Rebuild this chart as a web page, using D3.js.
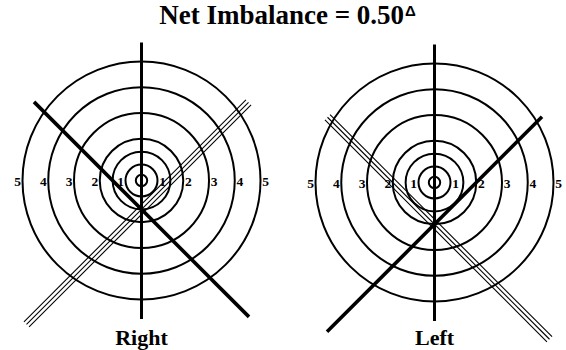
<!DOCTYPE html>
<html>
<head>
<meta charset="utf-8">
<script src="https://cdn.jsdelivr.net/npm/d3@7"></script>
<style>
  html, body { margin: 0; padding: 0; background: #fff; }
  svg { display: block; }
</style>
</head>
<body>
<svg id="chart" width="566" height="350"></svg>
<script>
// ---- data ----
const titleText = "Net Imbalance = 0.50";
const titleUnit = "\u0394";
const panelNames = ["Right", "Left"];
const crossValues = [1.5, 2];        // ring value (below centre) where the diagonals cross
const thickDirections = [1, -1];     // 1 = "\" thick line, -1 = "/" thick line
const ringValues = [0.6, 1, 1.5, 2, 3, 4, 5];
const ringLabels = [1, 2, 3, 4, 5];
const tripleOffsets = [-1, 0, 1];

// ---- layout ----
const FONT = "'Liberation Serif', 'Times New Roman', Times, serif";
const centerY = [180.5, 182.5];
const svg = d3.select("#chart");

const xPanel = d3.scalePoint().domain(panelNames).range([141.5, 434.5]);
const r = d3.scaleLinear().domain([1, 5]).range([16, 119]);

const title = svg.append("text")
  .attr("x", 287.5).attr("y", 24)
  .attr("text-anchor", "middle")
  .attr("font-family", FONT).attr("font-weight", "bold")
  .attr("font-size", 27);
title.append("tspan").text(titleText);
title.append("tspan")
  .attr("dy", -8)
  .attr("dx", 1)
  .attr("font-size", 15)
  .attr("font-family", "'Liberation Sans', Arial, sans-serif")
  .text(titleUnit);

panelNames.forEach((name, i) => {
  const cx = xPanel(name), cy = centerY[i];
  const g = svg.append("g").attr("transform", `translate(${cx},${cy})`);

  // rings
  g.selectAll("circle.ring").data(ringValues).join("circle")
    .attr("class", "ring")
    .attr("r", d => r(d))
    .attr("fill", "none").attr("stroke", "#000").attr("stroke-width", 2);

  // ring labels both sides
  const labelData = ringLabels.flatMap(v => [{v, s: -1}, {v, s: 1}]);
  g.selectAll("text.lab").data(labelData).join("text")
    .attr("class", "lab")
    .attr("x", d => d.s * (r(d.v) + 5))
    .attr("y", 5)
    .attr("text-anchor", "middle")
    .attr("font-family", FONT).attr("font-weight", "bold")
    .attr("font-size", 13.5)
    .text(d => d.v);

  // vertical line
  g.append("line")
    .attr("x1", 0).attr("x2", 0).attr("y1", -138).attr("y2", 138.5)
    .attr("stroke", "#000").attr("stroke-width", 3);

  const crossY = r(crossValues[i]);
  const dir = thickDirections[i];

  // triple thin lines, perpendicular to the thick line
  const tdir = -dir;               // screen slope sign of triple lines
  const sp = 3.6;
  const up = 107, down = 115;
  const nx = tdir / Math.SQRT2, ny = -1 / Math.SQRT2;   // unit normal
  const ux = (tdir > 0) ? -1 : 1;  // x sign of upper end
  g.selectAll("line.triple").data(tripleOffsets).join("line")
    .attr("class", "triple")
    .attr("x1", o => o * sp * nx + ux * up)
    .attr("y1", o => crossY + o * sp * ny - up)
    .attr("x2", o => o * sp * nx - ux * down)
    .attr("y2", o => crossY + o * sp * ny + down)
    .attr("stroke", "#000").attr("stroke-width", 1.1);

  // thick diagonal
  const ux2 = (dir > 0) ? -1 : 1;
  g.append("line")
    .attr("x1", ux2 * 107.5).attr("y1", crossY - 107.5)
    .attr("x2", -ux2 * 107.5).attr("y2", crossY + 107.5)
    .attr("stroke", "#000").attr("stroke-width", 3.6);

  svg.append("text")
    .attr("x", cx).attr("y", 345)
    .attr("text-anchor", "middle")
    .attr("font-family", FONT).attr("font-weight", "bold")
    .attr("font-size", 22)
    .text(name);
});
</script>
</body>
</html>
